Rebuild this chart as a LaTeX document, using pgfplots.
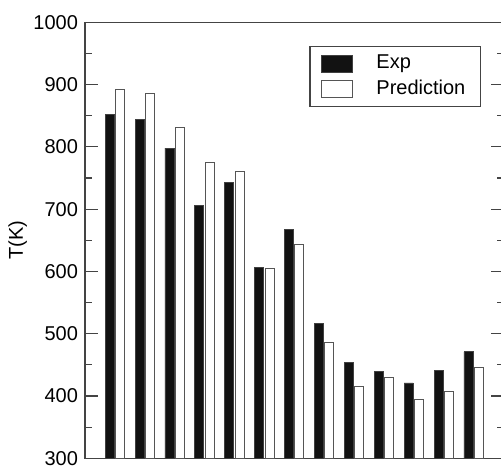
\documentclass[border=0pt]{standalone}
\usepackage{pgfplots}
\pgfplotsset{compat=1.18}
\usepackage{fontspec}
\setmainfont{Liberation Sans}
\definecolor{axgray}{HTML}{444444}
\definecolor{bargray}{HTML}{555555}
\begin{document}
\begin{tikzpicture}
\begin{axis}[
    scale only axis,
    width=209.25pt, height=218pt,
    xmin=0, xmax=14,
    ymin=300, ymax=1000,
    xtick=\empty,
    ytick={300,400,...,1000},
    minor y tick num=1,
    major tick length=6.5pt,
    minor tick length=3.3pt,
    tick style={axgray, line width=0.6pt},
    axis line style={axgray, line width=0.7pt},
    tick label style={font=\fontsize{10}{12}\selectfont},
    /pgf/number format/assume math mode=true,
    /pgf/number format/1000 sep={},
    ylabel={T(K)},
    ylabel style={at={(axis description cs:-0.161,0.5)}, anchor=center, rotate=0, font=\fontsize{10}{12}\selectfont},
    legend style={at={(axis description cs:0.536,0.9466)}, anchor=north west,
        draw=axgray, line width=0.6pt, font=\fontsize{10}{11.5}\selectfont,
        inner xsep=5.5pt, inner ysep=2.5pt, row sep=0pt},
    legend cell align=left,
    legend image code/.code={
        \draw[#1, line width=0.5pt] (0pt,-4.25pt) rectangle (15.5pt,4.25pt);
        \path[draw=none, fill=none] (0pt,0pt) -- (25.5pt,0pt);
    },
]
\addplot[ybar, bar width=4.5pt, bar shift=-2.6pt, fill=black!93, draw=black!75, line width=0.4pt]
coordinates {
(1,852) (2,844) (3,798) (4,706) (5,743) (6,606) (7,667)
(8,516) (9,454) (10,439) (11,421) (12,441) (13,471)
};
\addlegendentry{Exp}
\addplot[ybar, bar width=4.5pt, bar shift=2.6pt, fill=white, draw=bargray, line width=0.5pt]
coordinates {
(1,892) (2,886) (3,831) (4,775) (5,760) (6,605) (7,644)
(8,486) (9,416) (10,430) (11,395) (12,407) (13,446)
};
\addlegendentry{Prediction}
\coordinate (bl) at (rel axis cs:0,0);
\coordinate (tr) at (rel axis cs:1,1);
\end{axis}
\pgfresetboundingbox
\useasboundingbox ([xshift=-42.5pt,yshift=-4pt]bl) rectangle ([xshift=-1.25pt,yshift=11.15pt]tr);
\end{tikzpicture}
\end{document}
